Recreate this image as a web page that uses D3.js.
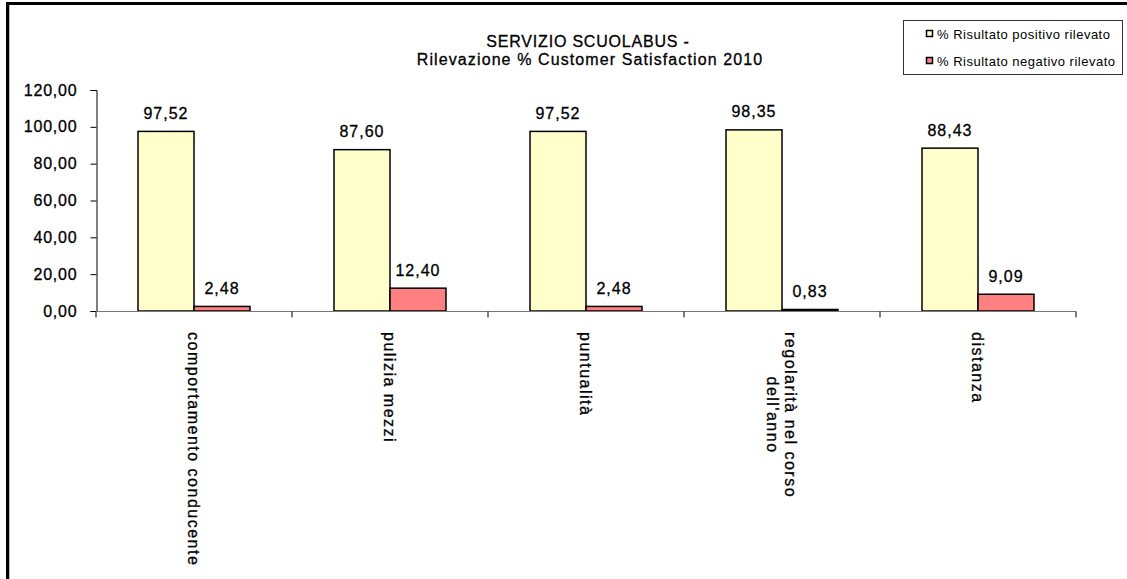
<!DOCTYPE html>
<html>
<head>
<meta charset="utf-8">
<script src="https://cdn.jsdelivr.net/npm/d3@7"></script>
<style>
  body { margin: 0; background: #fff; }
  svg { display: block; font-family: "Liberation Sans", Arial, sans-serif; }
  .txt { fill: #000; stroke: #000; stroke-width: 0.3px; }
</style>
</head>
<body>
<svg width="1127" height="579"></svg>
<script>
const categories = [
  ["comportamento conducente"],
  ["pulizia mezzi"],
  ["puntualità"],
  ["regolarità nel corso", "dell'anno"],
  ["distanza"]
];
const positivi = [97.52, 87.60, 97.52, 98.35, 88.43];
const negativi = [2.48, 12.40, 2.48, 0.83, 9.09];
const seriesNames = ["% Risultato positivo rilevato", "% Risultato negativo rilevato"];
const seriesColors = ["#FFFFCC", "#FF8080"];
const yTicks = [0, 20, 40, 60, 80, 100, 120];

const fmt = v => d3.format(".2f")(v).replace(".", ",");

let svg = d3.select("svg");

// outer frame (only top and left edges are visible)
svg.append("line").attr("x1", 6).attr("y1", 3.5).attr("x2", 1127).attr("y2", 3.5)
   .attr("stroke", "#000").attr("stroke-width", 3);
svg.append("line").attr("x1", 7.5).attr("y1", 2).attr("x2", 7.5).attr("y2", 579)
   .attr("stroke", "#000").attr("stroke-width", 3);
svg.append("line").attr("x1", 9.5).attr("y1", 5).attr("x2", 9.5).attr("y2", 579)
   .attr("stroke", "#bbb").attr("stroke-width", 1);

let x = d3.scaleBand()
          .domain(d3.range(categories.length))
          .range([96, 1076])
          .paddingInner(0).paddingOuter(0);

let y = d3.scaleLinear()
          .domain([0, 120])
          .range([311, 90]);

let inner = d3.scaleBand()
              .domain([0, 1])
              .range([0, x.bandwidth()])
              .paddingInner(0)
              .paddingOuter(0.75);

// title
svg.append("text").attr("class", "txt").attr("x", 588).attr("y", 47).attr("text-anchor", "middle")
   .attr("font-size", 16).attr("letter-spacing", 0.8).text("SERVIZIO SCUOLABUS  -");
svg.append("text").attr("class", "txt").attr("x", 590).attr("y", 65).attr("text-anchor", "middle")
   .attr("font-size", 16).attr("letter-spacing", 1.1).text("Rilevazione % Customer Satisfaction 2010");

// y axis
let yAxis = svg.append("g")
               .attr("transform", "translate(96.5,0)")
               .call(d3.axisLeft(y).tickValues(yTicks).tickSize(6).tickPadding(13).tickFormat(fmt));
yAxis.select(".domain").attr("stroke", "#000");
yAxis.selectAll(".tick line").attr("stroke", "#000");
yAxis.selectAll("text").attr("class", "txt").attr("font-size", 16).attr("letter-spacing", 0.8)
     .attr("font-family", "Liberation Sans, Arial, sans-serif");

// bars
const series = [positivi, negativi];
series.forEach((vals, s) => {
  svg.append("g").selectAll("rect")
     .data(vals)
     .enter().append("rect")
     .attr("x", (d, i) => x(i) + inner(s))
     .attr("y", d => y(d))
     .attr("width", inner.bandwidth())
     .attr("height", d => y(0) - y(d))
     .attr("fill", seriesColors[s])
     .attr("stroke", "#000")
     .attr("stroke-width", 1.5);

  svg.append("g").selectAll("text")
     .data(vals)
     .enter().append("text")
     .attr("class", "txt")
     .attr("x", (d, i) => x(i) + inner(s) + inner.bandwidth() / 2)
     .attr("y", d => y(d) - 12.5)
     .attr("text-anchor", "middle")
     .attr("font-size", 16)
     .attr("letter-spacing", 1)
     .text(d => fmt(d));
});

// x axis
let xAxis = svg.append("g")
               .attr("transform", "translate(0,311.5)");
xAxis.append("line").attr("x1", 96).attr("x2", 1076).attr("stroke", "#777").attr("stroke-width", 1.2);
xAxis.selectAll("line.tk")
     .data(d3.range(categories.length + 1))
     .enter().append("line")
     .attr("class", "tk")
     .attr("x1", i => i < categories.length ? x(i) : x.range()[1])
     .attr("x2", i => i < categories.length ? x(i) : x.range()[1])
     .attr("y1", 0).attr("y2", 6)
     .attr("stroke", "#000");

// category labels, rotated, reading top to bottom
const lineH = 18;
categories.forEach((lines, i) => {
  let cx = x(i) + x.bandwidth() / 2;
  let g = svg.append("g");
  let texts = lines.map((t, k) => {
    let lx = cx + ((lines.length - 1) / 2 - k) * lineH;
    return g.append("text")
            .attr("class", "txt")
            .attr("transform", "translate(" + lx + ",332) rotate(90)")
            .attr("dy", "0.35em")
            .attr("font-size", 16)
            .attr("letter-spacing", 1.5)
            .text(t);
  });
  let widths = texts.map(t => t.node().getComputedTextLength());
  let maxW = d3.max(widths);
  texts.forEach((t, k) => t.attr("x", (maxW - widths[k]) / 2));
});

// legend
let legend = svg.append("g");
legend.append("rect").attr("x", 903.5).attr("y", 20.5).attr("width", 219).attr("height", 54)
      .attr("fill", "#fff").attr("stroke", "#333");
seriesNames.forEach((n, s) => {
  let ly = 34 + s * 27;
  legend.append("rect").attr("x", 926.5).attr("y", ly - 3.5).attr("width", 6).attr("height", 6)
        .attr("fill", seriesColors[s]).attr("stroke", "#000").attr("stroke-width", 1.5);
  legend.append("text").attr("x", 937).attr("y", ly + 4.5)
        .attr("font-size", 13).attr("letter-spacing", 0.5).text(n);
});
</script>
</body>
</html>
